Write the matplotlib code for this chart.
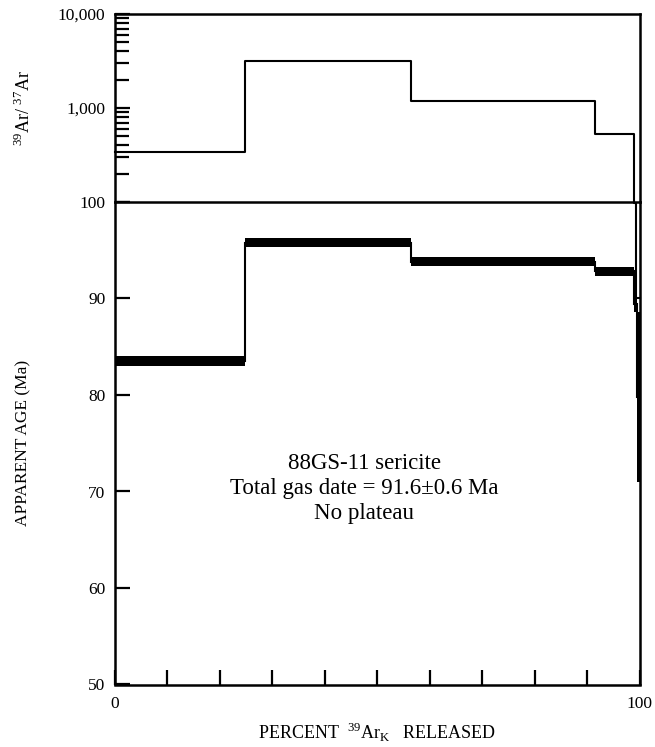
import matplotlib
matplotlib.use("Agg")
import matplotlib.pyplot as plt
import numpy as np

plt.rcParams['font.family'] = ['Liberation Serif', 'DejaVu Serif']
plt.rcParams['mathtext.fontset'] = 'custom'
plt.rcParams['mathtext.rm'] = 'Liberation Serif'

# Step boundaries (cumulative % 39ArK released)
step_edges = [0.0, 24.8, 56.4, 91.6, 99.0, 99.4, 100.0]
# 39Ar/37Ar ratio per step
ratio_values = [340, 3160, 1180, 525, 98, 9.5]
# Apparent ages (Ma) and 2-sigma errors per step
age_edges = [0.0, 24.8, 56.4, 91.6, 99.0, 99.5, 100.0]
age_values = [83.5, 95.8, 93.8, 92.8, 89.4, 79.8]
age_errors = [0.5, 0.45, 0.45, 0.45, 0.8, 8.8]

annotation = ["88GS-11 sericite", "Total gas date = 91.6\u00b10.6 Ma", "No plateau"]

fig = plt.figure(figsize=(6.55, 7.47), dpi=100)
W, H = 655, 747
left, right = 115, 639.5
top_y0, split_y, bot_y1 = 14, 202, 684.5
ax_bot = fig.add_axes([left / W, 1 - bot_y1 / H, (right - left) / W, (bot_y1 - split_y) / H])
ax_top = fig.add_axes([left / W, 1 - split_y / H, (right - left) / W, (split_y - top_y0) / H])
ax_bot.patch.set_visible(False)
ax_top.patch.set_visible(False)

lw_spine = 1.8
# ---- Top panel ----
xs, ys = [], []
for i, v in enumerate(ratio_values):
    xs += [step_edges[i], step_edges[i + 1]]
    ys += [v, v]
ax_top.plot(xs, ys, color='black', lw=1.5, clip_on=False, zorder=3)
ax_top.set_yscale('log')
ax_top.set_ylim(100, 10000)
ax_top.set_xlim(0, 100)
ax_top.set_xticks([])
ax_top.set_yticks([100, 1000, 10000])
ax_top.set_yticklabels(['100', '1,000', '10,000'])
ax_top.tick_params(axis='y', which='major', direction='in', length=11, width=1.6,
                   labelsize=12.5, pad=7)
ax_top.tick_params(axis='y', which='minor', direction='in', length=10, width=1.6)
ax_top.yaxis.set_minor_locator(matplotlib.ticker.LogLocator(base=10, subs=np.arange(2, 10)))
ax_top.yaxis.set_minor_formatter(matplotlib.ticker.NullFormatter())
for s in ax_top.spines.values():
    s.set_linewidth(lw_spine)
ax_top.set_ylabel(r'$^{39}$Ar/ $^{37}$Ar', fontsize=13)
ax_top.yaxis.set_label_coords(-0.155, 0.5)

# ---- Bottom panel ----
for i, (a, e) in enumerate(zip(age_values, age_errors)):
    x0, x1 = age_edges[i], age_edges[i + 1]
    ax_bot.fill_between([x0, x1], a - e, a + e, color='black', lw=0, zorder=3)
    if i + 1 < len(age_values):
        ax_bot.plot([x1, x1], [a, age_values[i + 1]], color='black', lw=1.5, zorder=3)
ax_bot.set_xlim(0, 100)
ax_bot.set_ylim(50, 100)
ax_bot.set_yticks([50, 60, 70, 80, 90, 100])
ax_bot.set_yticklabels(['50', '60', '70', '80', '90', ''])
ax_bot.set_xticks(np.arange(0, 101, 10))
ax_bot.set_xticklabels(['0'] + [''] * 9 + ['100'])
ax_bot.tick_params(axis='y', direction='in', length=11, width=1.6, labelsize=12.5, pad=7)
ax_bot.tick_params(axis='x', direction='in', length=11, width=1.6, labelsize=12.5, pad=8)
ax_bot.spines['top'].set_visible(False)
for s in ['left', 'right', 'bottom']:
    ax_bot.spines[s].set_linewidth(lw_spine)
ax_bot.set_ylabel('APPARENT AGE (Ma)', fontsize=12.5)
ax_bot.yaxis.set_label_coords(-0.16, 0.5)
ax_bot.set_xlabel(r'PERCENT  $^{39}$Ar$_{\mathrm{K}}$   RELEASED', fontsize=13, labelpad=7)

ax_bot.text(47.5, 70.3, "\n".join(annotation), ha='center', va='center',
            fontsize=16.5, linespacing=1.25)

fig.savefig('out.png', dpi=100)
